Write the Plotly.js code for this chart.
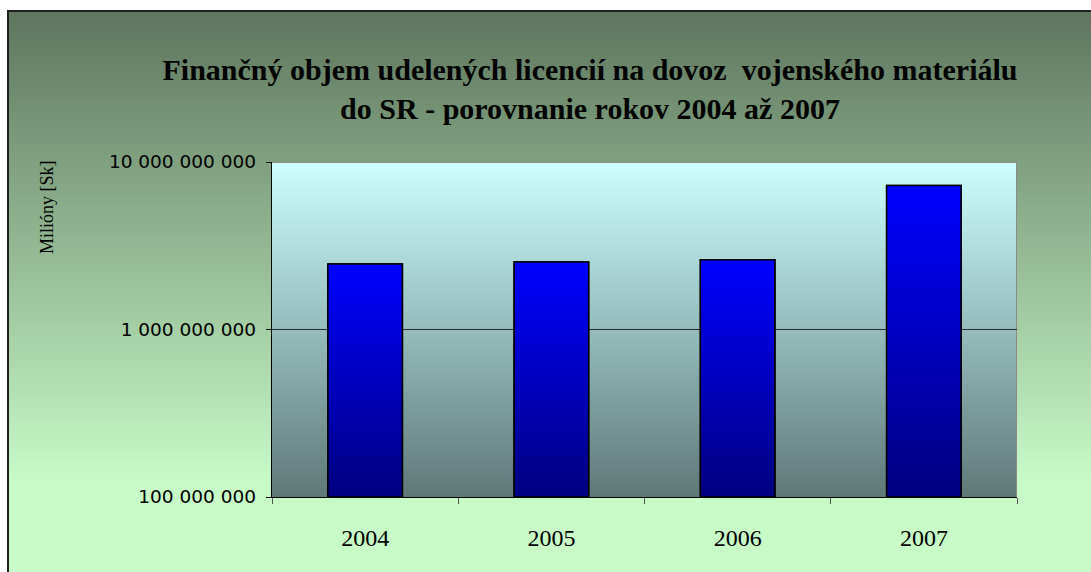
<!DOCTYPE html>
<html>
<head>
<meta charset="utf-8">
<script src="https://cdn.plot.ly/plotly-3.0.1.min.js"></script>
<style>
  html, body { margin: 0; padding: 0; background: #ffffff; overflow: hidden; width: 1091px; height: 572px; }
  #frame { position: absolute; left: 7px; top: 10px; width: 1200px; height: 700px;
    border-left: 2px solid #1e1e1e; border-top: 2px solid #1e1e1e;
    background: linear-gradient(to bottom, #5e765e 0px, #c8fac8 470px, #c8fac8 100%); }
  #plotbg { position: absolute; left: 272px; top: 162px; width: 744px; height: 334px;
    border-top: 1px solid #8a8a8a; border-right: 1px solid #8a8a8a;
    background: linear-gradient(to bottom, #ccffff 0%, #5f7878 100%); }
  #chart { position: absolute; left: 0; top: 0; width: 1091px; height: 572px; }
</style>
</head>
<body>
<div id="frame"></div>
<div id="plotbg"></div>
<div id="chart"></div>
<script>
const years = ['2004', '2005', '2006', '2007'];
const values = [2.46e9, 2.53e9, 2.61e9, 7.25e9];
const yTickVals = [1e8, 1e9, 1e10];
const yTickText = ['100 000 000', '1 000 000 000', '10 000 000 000'];
const titleText = 'Finančný objem udelených licencií na dovoz  vojenského materiálu<br>do SR - porovnanie rokov 2004 až 2007';
const yTitle = 'Milióny [Sk]';

const yMin = 1e8, yMax = 1e10;
const bargap = 0.6;
const half = (1 - bargap) / 2;

const traces = [{
  type: 'bar',
  x: years,
  y: values,
  marker: { color: '#0000ff', line: { color: '#000000', width: 1.5 } },
  hoverinfo: 'x+y'
}];

// Gradient overlay for each bar, built from the same data on a twin linear axis
values.forEach(function (v, i) {
  traces.push({
    type: 'scatter',
    xaxis: 'x2', yaxis: 'y',
    x: [i - half, i + half, i + half, i - half, i - half],
    y: [yMin, yMin, v, v, yMin],
    mode: 'lines',
    fill: 'toself',
    fillgradient: { type: 'vertical', colorscale: [[0, '#000080'], [1, '#0000ff']] },
    line: { color: '#000000', width: 1.5 },
    hoverinfo: 'skip',
    showlegend: false
  });
});

const layout = {
  width: 1091,
  height: 572,
  paper_bgcolor: 'rgba(0,0,0,0)',
  plot_bgcolor: 'rgba(0,0,0,0)',
  margin: { l: 272, r: 74, t: 162, b: 75, pad: 0 },
  showlegend: false,
  bargap: bargap,
  title: {
    text: titleText,
    font: { family: 'Liberation Serif', size: 30, color: '#000000', weight: 'bold' },
    xref: 'container', x: 590 / 1091, xanchor: 'center',
    yref: 'container', y: 1 - 80 / 572, yanchor: 'middle'
  },
  xaxis: {
    type: 'category',
    range: [-0.5, years.length - 0.5],
    showgrid: false,
    showline: true, linecolor: '#000000', linewidth: 1,
    ticks: 'outside', tickson: 'boundaries', ticklen: 6, tickcolor: '#555555', tickwidth: 1,
    tickfont: { family: 'Liberation Serif', size: 24, color: '#000000' },
    ticklabelstandoff: 19,
    fixedrange: true
  },
  xaxis2: {
    type: 'linear',
    overlaying: 'x',
    range: [-0.5, years.length - 0.5],
    visible: false,
    fixedrange: true
  },
  yaxis: {
    type: 'log',
    range: [Math.log10(yMin), Math.log10(yMax)],
    tickvals: yTickVals,
    ticktext: yTickText,
    showgrid: true, gridcolor: '#2a2a2a', gridwidth: 1.3,
    showline: true, linecolor: '#000000', linewidth: 1.3,
    ticks: 'outside', ticklen: 5, tickcolor: '#000000', tickwidth: 1,
    tickfont: { family: 'DejaVu Sans', size: 18.5, color: '#000000' },
    ticklabelstandoff: 6,
    zeroline: false,
    fixedrange: true
  },
  annotations: [{
    text: yTitle,
    xref: 'paper', yref: 'paper',
    x: (47 - 272) / 745, y: (497 - 207) / 335,
    xanchor: 'center', yanchor: 'middle',
    textangle: -90, showarrow: false,
    font: { family: 'Liberation Serif', size: 18, color: '#000000' }
  }]
};

Plotly.newPlot('chart', traces, layout, { displayModeBar: false, staticPlot: true });
</script>
</body>
</html>
